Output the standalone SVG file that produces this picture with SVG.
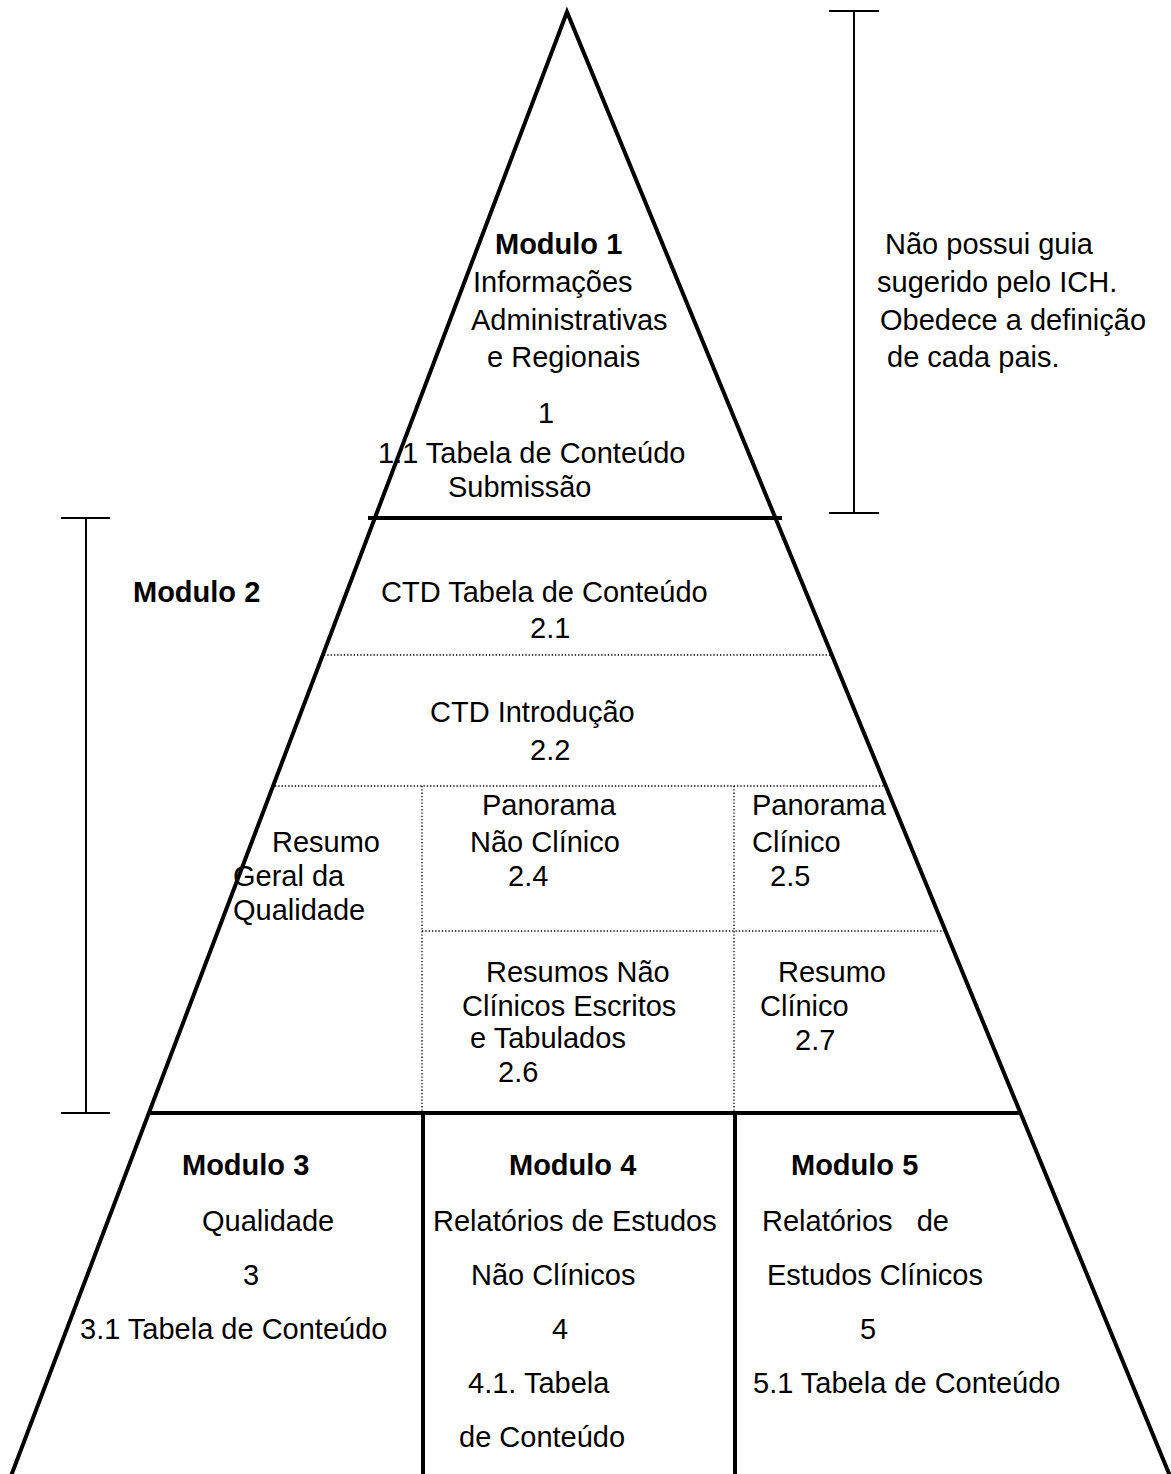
<svg xmlns="http://www.w3.org/2000/svg" width="1171" height="1474" viewBox="0 0 1171 1474">
<style>
text{font-family:"Liberation Sans",Arial,sans-serif;font-size:29px;fill:#000}
.b{font-weight:bold}
.thick{stroke:#000;stroke-width:4;fill:none}
.med{stroke:#000;stroke-width:2;fill:none}
.dot{stroke:#000;stroke-width:1.3;stroke-dasharray:1.3 2;fill:none}
</style>
<rect width="1171" height="1474" fill="#fff"/>
<g id="connectors">
<path class="thick" d="M11,1476 L567,12 L1170,1476"/>
<line class="thick" x1="368" y1="518" x2="782" y2="518"/>
<line class="thick" x1="150" y1="1113" x2="1020" y2="1113"/>
<line class="thick" x1="423" y1="1113" x2="423" y2="1474"/>
<line class="thick" x1="735" y1="1113" x2="735" y2="1474"/>
<line class="dot" x1="324" y1="655" x2="830" y2="655"/>
<line class="dot" x1="275" y1="786" x2="884" y2="786"/>
<line class="dot" x1="422" y1="931" x2="944" y2="931"/>
<line class="dot" x1="422" y1="786" x2="422" y2="1113"/>
<line class="dot" x1="734" y1="786" x2="734" y2="1113"/>
<line class="med" x1="829" y1="11" x2="879" y2="11"/>
<line class="med" x1="854" y1="11" x2="854" y2="513"/>
<line class="med" x1="829" y1="513" x2="879" y2="513"/>
<line class="med" x1="61" y1="518" x2="110" y2="518"/>
<line class="med" x1="86" y1="518" x2="86" y2="1113"/>
<line class="med" x1="61" y1="1113" x2="110" y2="1113"/>
</g>
<g id="modulo1">
<text class="b" x="495" y="254">Modulo 1</text>
<text x="473" y="292">Informações</text>
<text x="471" y="330">Administrativas</text>
<text x="487" y="367">e Regionais</text>
<text x="538" y="423">1</text>
<text x="378" y="463">1.1 Tabela de Conteúdo</text>
<text x="448" y="497">Submissão</text>
</g>
<g id="nota">
<text x="885" y="254">Não possui guia</text>
<text x="877" y="292">sugerido pelo ICH.</text>
<text x="880" y="330">Obedece a definição</text>
<text x="887" y="367">de cada pais.</text>
</g>
<g id="modulo2">
<text class="b" x="133" y="602">Modulo 2</text>
</g>
<g id="n21">
<text x="381" y="602">CTD Tabela de Conteúdo</text>
<text x="530" y="638">2.1</text>
</g>
<g id="n22">
<text x="430" y="722">CTD Introdução</text>
<text x="530" y="760">2.2</text>
</g>
<g id="n23">
<text x="272" y="852">Resumo</text>
<text x="233" y="886">Geral da</text>
<text x="233" y="920">Qualidade</text>
</g>
<g id="n24">
<text x="482" y="815">Panorama</text>
<text x="470" y="852">Não Clínico</text>
<text x="508" y="886">2.4</text>
</g>
<g id="n25">
<text x="752" y="815">Panorama</text>
<text x="752" y="852">Clínico</text>
<text x="770" y="886">2.5</text>
</g>
<g id="n26">
<text x="486" y="982">Resumos Não</text>
<text x="462" y="1016">Clínicos Escritos</text>
<text x="470" y="1048">e Tabulados</text>
<text x="498" y="1082">2.6</text>
</g>
<g id="n27">
<text x="778" y="982">Resumo</text>
<text x="760" y="1016">Clínico</text>
<text x="795" y="1050">2.7</text>
</g>
<g id="modulo3">
<text class="b" x="182" y="1175">Modulo 3</text>
<text x="202" y="1231">Qualidade</text>
<text x="243" y="1285">3</text>
<text x="80" y="1339">3.1 Tabela de Conteúdo</text>
</g>
<g id="modulo4">
<text class="b" x="509" y="1175">Modulo 4</text>
<text x="433" y="1231">Relatórios de Estudos</text>
<text x="471" y="1285">Não Clínicos</text>
<text x="552" y="1339">4</text>
<text x="468" y="1393">4.1. Tabela</text>
<text x="459" y="1447">de Conteúdo</text>
</g>
<g id="modulo5">
<text class="b" x="791" y="1175">Modulo 5</text>
<text x="762" y="1231" xml:space="preserve">Relatórios   de</text>
<text x="767" y="1285">Estudos Clínicos</text>
<text x="860" y="1339">5</text>
<text x="753" y="1393">5.1 Tabela de Conteúdo</text>
</g>
</svg>
